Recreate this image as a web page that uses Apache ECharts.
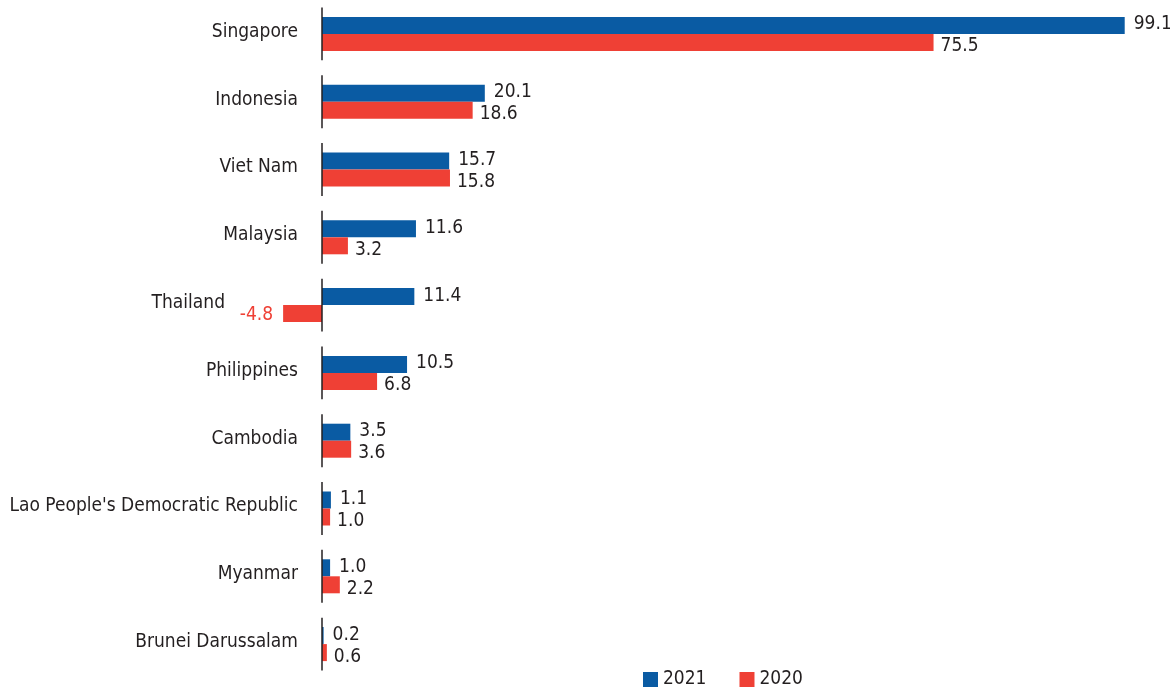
<!DOCTYPE html>
<html>
<head>
<meta charset="utf-8">
<script src="https://cdn.jsdelivr.net/npm/echarts@6/dist/echarts.min.js"></script>
<style>
  html, body { margin: 0; padding: 0; background: #fff; }
  #main { width: 1170px; height: 690px; }
</style>
</head>
<body>
<div id="main"></div>
<script>
  var countries = ['Singapore', 'Indonesia', 'Viet Nam', 'Malaysia', 'Thailand', 'Philippines',
    'Cambodia', "Lao People's Democratic Republic", 'Myanmar', 'Brunei Darussalam'];
  var values2021 = [99.1, 20.1, 15.7, 11.6, 11.4, 10.5, 3.5, 1.1, 1.0, 0.2];
  var values2020 = [75.5, 18.6, 15.8, 3.2, -4.8, 6.8, 3.6, 1.0, 2.2, 0.6];

  var FONT = "'DejaVu Sans Condensed', 'Liberation Sans Narrow', sans-serif";
  var FS = 19;
  var TXT = '#231f20';
  var BLUE = '#0a5ba3';
  var RED = '#ef4035';

  var chart = echarts.init(document.getElementById('main'));

  // red series: negative value gets its label on the left, in red
  var data2020 = values2020.map(function (v) {
    if (v < 0) {
      return { value: v, label: { position: 'left', distance: 10, color: RED, offset: [0, 1] } };
    }
    return v;
  });

  chart.setOption({
    animation: false,
    grid: { left: 160, right: 38, top: 0, bottom: 12, containLabel: false, outerBoundsMode: 'none' },
    legend: {
      left: 638, top: 665,
      itemWidth: 15, itemHeight: 15, itemGap: 33,
      icon: 'rect',
      textStyle: { fontFamily: FONT, fontSize: FS, color: TXT, padding: [2, 0, 0, 0] },
      data: ['2021', '2020']
    },
    xAxis: {
      type: 'value', min: -20, max: 100,
      show: false
    },
    yAxis: {
      type: 'category', inverse: true,
      data: countries,
      axisLine: { show: false },
      axisTick: { show: false },
      axisLabel: {
        margin: -138,
        fontFamily: FONT, fontSize: FS, color: TXT,
        padding: [0, 0, 4, 0],
        formatter: function (v) {
          return v === 'Thailand' ? '{t|' + v + '}' : v;
        },
        rich: {
          t: { fontFamily: FONT, fontSize: FS, color: TXT, padding: [0, 73, 0, 0] }
        }
      }
    },
    series: [
      {
        name: '2021', type: 'bar', data: values2021,
        barWidth: 17, barGap: '0%',
        itemStyle: { color: BLUE },
        label: {
          show: true, position: 'right', distance: 9,
          fontFamily: FONT, fontSize: FS, color: TXT,
          offset: [0, -1],
          formatter: function (p) { return p.value.toFixed(1); }
        }
      },
      {
        name: '2020', type: 'bar', data: data2020,
        barWidth: 17, barGap: '0%',
        itemStyle: { color: RED },
        label: {
          show: true, position: 'right', distance: 7,
          fontFamily: FONT, fontSize: FS, color: TXT,
          offset: [0, 4],
          formatter: function (p) { return p.value.toFixed(1); }
        }
      },
      {
        // segmented baseline at zero, one piece per category
        type: 'custom',
        silent: true,
        data: countries.map(function (c) { return [0, c]; }),
        encode: { x: 0, y: 1 },
        renderItem: function (params, api) {
          var p = api.coord([0, api.value(1)]);
          var half = api.size([0, 1])[1] * 0.39;
          return {
            type: 'line',
            shape: { x1: p[0], y1: p[1] - half, x2: p[0], y2: p[1] + half },
            style: { stroke: TXT, lineWidth: 1.5 }
          };
        },
        z: 5
      }
    ]
  });
</script>
</body>
</html>
